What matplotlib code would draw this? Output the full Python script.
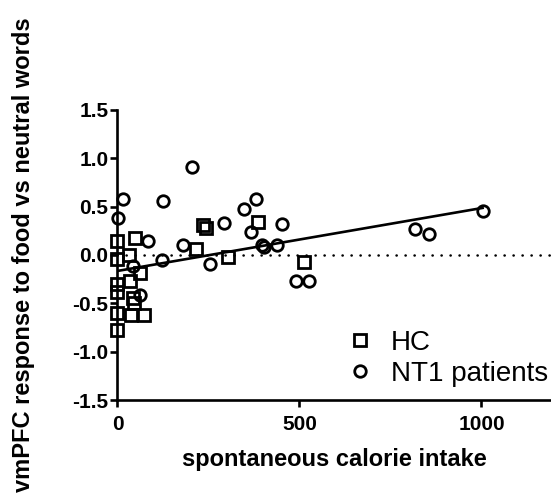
import matplotlib
matplotlib.use('Agg')
import matplotlib.pyplot as plt
from matplotlib.lines import Line2D

plt.rcParams['font.family'] = ['Liberation Sans', 'DejaVu Sans']

# HC group (squares)
hc_x = [0, 0, 0, 0, 0, 0, 32, 34, 37, 43, 46, 47, 62, 74,
        216, 236, 243, 304, 387, 512]
hc_y = [0.14, -0.04, -0.30, -0.38, -0.60, -0.78, 0.0, -0.27, -0.625, -0.44,
        -0.50, 0.18, -0.19, -0.62, 0.064, 0.31, 0.28, -0.02, 0.34, -0.074]

# NT1 patients (circles)
nt1_x = [2, 16, 43, 62, 85, 121, 126, 181, 204, 254, 293, 348, 366, 380,
         396, 402, 439, 451, 490, 527, 817, 857, 1003]
nt1_y = [0.38, 0.58, -0.11, -0.41, 0.14, -0.05, 0.556, 0.10, 0.915, -0.09,
         0.33, 0.478, 0.236, 0.58, 0.10, 0.08, 0.108, 0.32, -0.264, -0.264,
         0.264, 0.22, 0.45]

# regression line (NT1)
fit_x = [0, 1003]
fit_y = [-0.165, 0.487]

yticks = [-1.5, -1.0, -0.5, 0.0, 0.5, 1.0, 1.5]
ytick_labels = ['-1.5', '-1.0', '-0.5', '0.0', '0.5', '1.0', '1.5']
xticks = [0, 500, 1000]

fig = plt.figure(figsize=(5.51, 4.95), dpi=100)
ax = fig.add_axes([0.2132, 0.1919, 0.7868, 0.5859])

ax.axhline(0, color='black', lw=1.8, linestyle=(0, (0.1, 3.5)),
           dash_capstyle='round', zorder=1)
ax.plot(fit_x, fit_y, color='black', lw=1.9, zorder=2)

mk = dict(linestyle='none', markersize=8.3, markeredgewidth=2.0,
          markeredgecolor='black', markerfacecolor='none')
ax.plot(hc_x, hc_y, marker='s', clip_on=False, zorder=3, **mk)
ax.plot(nt1_x, nt1_y, marker='o', clip_on=False, zorder=3, **mk)

ax.set_xlim(0, 1191)
ax.set_ylim(-1.5, 1.5)
ax.set_xticks(xticks)
ax.set_yticks(yticks)
ax.set_yticklabels(ytick_labels)

for s in ['top', 'right']:
    ax.spines[s].set_visible(False)
for s in ['left', 'bottom']:
    ax.spines[s].set_linewidth(1.9)

ax.tick_params(axis='both', direction='out', length=5, width=1.9,
               labelsize=15)
ax.tick_params(axis='y', pad=1.5)
ax.tick_params(axis='x', pad=6)
for lab in ax.get_xticklabels() + ax.get_yticklabels():
    lab.set_fontweight('bold')

ax.set_xlabel('spontaneous calorie intake', fontsize=17, fontweight='bold')
ax.set_ylabel('vmPFC response to food vs neutral words', fontsize=17,
              fontweight='bold')
ax.yaxis.set_label_coords(-0.19, 0.5)
ax.xaxis.set_label_coords(0.5, -0.165)

handles = [Line2D([], [], marker='s', **mk), Line2D([], [], marker='o', **mk)]
ax.legend(handles, ['HC', 'NT1 patients'], loc='lower right', frameon=False,
          fontsize=20, handlelength=0.8, handletextpad=0.72, labelspacing=0.17,
          bbox_to_anchor=(1.031, -0.012), borderaxespad=0.2)

fig.savefig('out.png', dpi=100)
